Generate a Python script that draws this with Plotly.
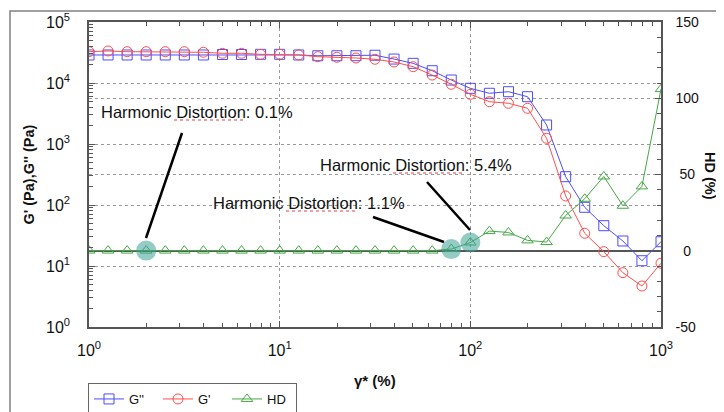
import plotly.graph_objects as go

# ---- data ----
strain = [1.0, 1.259, 1.585, 1.995, 2.512, 3.162, 3.981, 5.012, 6.31, 7.943,
          10.0, 12.59, 15.85, 19.95, 25.12, 31.62, 39.81, 50.12, 63.1, 79.43,
          100.0, 125.9, 158.5, 199.5, 251.2, 316.2, 398.1, 501.2, 631.0, 794.3, 1000.0]
g_loss = [28800, 28800, 28800, 28800, 28800, 28800, 28800, 29300, 29300, 29500,
          29500, 28800, 28000, 28000, 28000, 28500, 24700, 21000, 15900, 11200,
          8180, 6780, 7200, 5960, 2050, 291, 91.7, 45.8, 25.7, 12.2, 25.0]
g_store = [32600, 33500, 32600, 32600, 32600, 32600, 31900, 30700, 30700, 29500,
           29500, 28800, 27000, 26400, 25700, 24500, 22100, 18500, 13500, 9520,
           6530, 4940, 4650, 3850, 1240, 140.5, 34.4, 17.2, 7.77, 4.70, 11.1]
hd = [0.1, 0.1, 0.1, 0.1, 0.1, 0.1, 0.1, 0.1, 0.1, 0.1,
      0.1, 0.1, 0.1, 0.1, 0.1, 0.1, 0.1, 0.1, 0.1, 1.1,
      5.4, 12.9, 12.0, 6.8, 5.7, 23.1, 34.1, 48.7, 29.5, 42.2, 106.0]

x_tickvals = [1, 10, 100, 1000]
x_ticktext = ["10<sup>0</sup>", "10<sup>1</sup>", "10<sup>2</sup>", "10<sup>3</sup>"]
y_tickvals = [1, 10, 100, 1000, 10000, 100000]
y_ticktext = ["10<sup>0</sup>", "10<sup>1</sup>", "10<sup>2</sup>", "10<sup>3</sup>",
              "10<sup>4</sup>", "10<sup>5</sup>"]
y2_tickvals = [-50, 0, 50, 100, 150]
y2_ticktext = ["-50", "\u00a0\u00a00", "\u00a050", "100", "150"]

highlight_idx = [3, 19, 20]
notes = ["Harmonic Distortion: 0.1%", "Harmonic Distortion: 5.4%", "Harmonic Distortion: 1.1%"]

# ---- layout geometry ----
# the page is drawn with an 8px body offset, so the figure is shrunk by 8px
OFF = 8
W, H = 724 - OFF, 412 - OFF
L, T = 89 - OFF, 22 - OFF
PW, PH = 572, 305
R = W - L - PW
B = H - T - PH


def px(x):  # reference pixel -> paper
    return (x - 89) / PW


def py(y):
    return (327 - y) / PH


FONT = "Liberation Sans, Arial, sans-serif"
AX = "#555555"
BLUE = "#4d4dff"
RED = "#ff4d4d"
GREEN = "#46a846"

fig = go.Figure()
fig.add_trace(go.Scatter(x=strain, y=g_loss, name="G''", mode="lines+markers",
                         line=dict(color=BLUE, width=1),
                         marker=dict(symbol="square-open", size=10, color=BLUE, line=dict(width=1))))
fig.add_trace(go.Scatter(x=strain, y=g_store, name="G'", mode="lines+markers",
                         line=dict(color=RED, width=1),
                         marker=dict(symbol="circle-open", size=10, color=RED, line=dict(width=1))))
fig.add_trace(go.Scatter(x=strain, y=hd, name="HD", mode="lines+markers", yaxis="y2",
                         line=dict(color=GREEN, width=1),
                         marker=dict(symbol="triangle-up-open", size=10, color=GREEN, line=dict(width=1))))
# highlight blobs on the annotated HD points
fig.add_trace(go.Scatter(x=[strain[i] for i in highlight_idx], y=[hd[i] for i in highlight_idx],
                         yaxis="y2", mode="markers", showlegend=False, hoverinfo="skip",
                         marker=dict(symbol="circle", size=20, color="rgba(60,160,150,0.55)",
                                     line=dict(width=0))))

grid = dict(showgrid=True, gridcolor="#9a9a9a", griddash="dot", gridwidth=1)

fig.update_layout(
    width=W, height=H,
    margin=dict(l=L, r=R, t=T, b=B, autoexpand=False),
    paper_bgcolor="white", plot_bgcolor="white",
    font=dict(family=FONT, color="#111111"),
    xaxis=dict(type="log", range=[0, 3], tickvals=x_tickvals, ticktext=x_ticktext,
               ticks="inside", ticklen=6, tickcolor=AX, showline=True, linecolor=AX, linewidth=1.5,
               mirror="ticks", tickfont=dict(size=16), ticklabelstandoff=8,
               minor=dict(ticks="inside", ticklen=4, tickcolor=AX, dtick="D1", showgrid=False),
               zeroline=False, **grid),
    yaxis=dict(type="log", range=[0, 5], tickvals=y_tickvals, ticktext=y_ticktext,
               ticks="inside", ticklen=6, tickcolor=AX, showline=True, linecolor=AX, linewidth=1.5,
               tickfont=dict(size=16), ticklabelstandoff=14,
               minor=dict(ticks="inside", ticklen=4, tickcolor=AX, dtick="D1", showgrid=False),
               zeroline=False, **grid),
    yaxis2=dict(overlaying="y", side="right", range=[-50, 150], tickvals=y2_tickvals,
                ticktext=y2_ticktext, ticks="inside", ticklen=6, tickcolor=AX,
                showline=True, linecolor=AX, linewidth=1.5, tickfont=dict(size=14),
                ticklabelstandoff=10,
                minor=dict(ticks="inside", ticklen=4, tickcolor=AX, dtick=10, showgrid=False),
                zeroline=True, zerolinecolor=AX, zerolinewidth=1.5, **grid),
    legend=dict(orientation="h", x=px(88), xanchor="left", y=py(399), yanchor="middle",
                bordercolor="#666666", borderwidth=1, font=dict(size=13), entrywidth=24,
                bgcolor="white", itemwidth=30, tracegroupgap=0),
    showlegend=True,
)

# axis titles
fig.add_annotation(x=px(28), y=0.5, xref="paper", yref="paper", text="<b>G' (Pa),G'' (Pa)</b>",
                   xanchor="center", yanchor="middle",
                   textangle=-90, showarrow=False, font=dict(size=14.5))
fig.add_annotation(x=px(375), y=py(380), xref="paper", yref="paper", text="<b>\u03b3* (%)</b>",
                   xanchor="center", yanchor="middle", showarrow=False, font=dict(size=15))
fig.add_annotation(x=px(710), y=py(176), xref="paper", yref="paper", text="<b>HD (%)</b>",
                   xanchor="center", yanchor="middle",
                   textangle=90, showarrow=False, font=dict(size=14.5))

# callouts
note_pos = [(99, 112), (318, 165), (211, 203)]
for (tx, ty), txt in zip(note_pos, notes):
    fig.add_annotation(x=px(tx), y=py(ty), xref="paper", yref="paper", text=txt,
                       xanchor="left", yanchor="middle", showarrow=False,
                       font=dict(size=16.5, color="#111111"))
    # spell-check style underline under "Distortion"
    fig.add_shape(type="line", xref="paper", yref="paper",
                  x0=px(tx + 75), x1=px(tx + 145), y0=py(ty + 8), y1=py(ty + 8),
                  line=dict(color="#e04040", width=1, dash="dot"))

seg = [((182, 133), (146, 238)), ((373, 217), (444, 242)), ((427, 182), (470, 230))]
for (a, b) in seg:
    fig.add_shape(type="line", xref="paper", yref="paper",
                  x0=px(a[0]), y0=py(a[1]), x1=px(b[0]), y1=py(b[1]),
                  line=dict(color="black", width=2.5))

# outer frame
fig.add_shape(type="rect", xref="paper", yref="paper",
              x0=px(10), x1=px(735), y0=py(425), y1=py(11),
              line=dict(color="#808080", width=1.5), layer="below")

fig.write_html("out.html")
